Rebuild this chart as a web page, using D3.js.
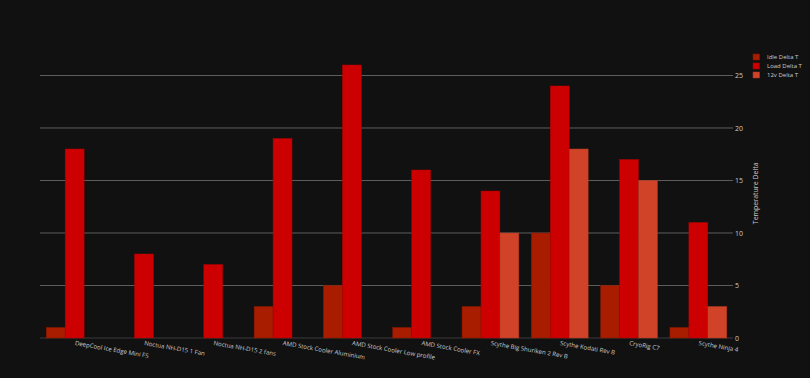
<!DOCTYPE html>
<html>
<head>
<meta charset="utf-8">
<script src="https://cdn.jsdelivr.net/npm/d3@7"></script>
<style>
  body { margin: 0; background: #111111; }
  text { font-family: "Open Sans", sans-serif; fill: #cccccc; }
</style>
</head>
<body>
<div id="chart-area"></div>
<script>
var outerWidth = 810;
var outerHeight = 378;

// data
var coolers = ["DeepCool Ice Edge Mini FS", "Noctua NH-D15 1 Fan", "Noctua NH-D15 2 fans",
  "AMD Stock Cooler Aluminium", "AMD Stock Cooler Low profile", "AMD Stock Cooler FX",
  "Scythe Big Shuriken 2 Rev B", "Scythe Kodati Rev B", "CryoRig C7", "Scythe Ninja 4"];
var seriesNames = ["Idle Delta T", "Load Delta T", "12v Delta T"];
var idleDelta = [1, 0, 0, 3, 5, 1, 3, 10, 5, 1];
var loadDelta = [18, 8, 7, 19, 26, 16, 14, 24, 17, 11];
var v12Delta = [null, null, null, null, null, null, 10, 18, 15, 3];
var yTicks = [0, 5, 10, 15, 20, 25];
var colors = ["#a81c00", "#cc0000", "#d04328"];
var strokes = ["#8a1600", "#a80000", "#ad3720"];

var seriesValues = [idleDelta, loadDelta, v12Delta];

var margin = { left: 40, right: 77, top: 50.6, bottom: 40 };
var width = outerWidth - margin.left - margin.right;
var height = outerHeight - margin.top - margin.bottom;

var svg = d3.select("#chart-area")
  .append("svg")
  .attr("width", outerWidth)
  .attr("height", outerHeight)
  .style("background", "#111111");

var g = svg.append("g")
  .attr("transform", "translate(" + margin.left + "," + margin.top + ")");

// scales
var x = d3.scaleBand()
  .domain(coolers)
  .range([0, width])
  .paddingInner(0.18)
  .paddingOuter(0.09);

var xInner = d3.scaleBand()
  .domain(seriesNames)
  .range([0, x.bandwidth()]);

var y = d3.scaleLinear()
  .domain([0, 27.37])
  .range([height, 0]);

// grid lines
g.selectAll(".grid")
  .data(yTicks.filter(function(d) { return d > 0; }))
  .enter()
  .append("line")
  .attr("x1", 0)
  .attr("x2", width)
  .attr("y1", function(d) { return y(d); })
  .attr("y2", function(d) { return y(d); })
  .attr("stroke", "#5e5e5e")
  .attr("stroke-width", 1);

// zero line
g.append("line")
  .attr("x1", 0)
  .attr("x2", width)
  .attr("y1", y(0))
  .attr("y2", y(0))
  .attr("stroke", "#2c2c2c")
  .attr("stroke-width", 1.5);

// bars
var rows = [];
coolers.forEach(function(c, i) {
  seriesValues.forEach(function(vals, s) {
    if (vals[i] !== null && vals[i] > 0) {
      rows.push({ cooler: c, series: s, value: vals[i] });
    }
  });
});

g.selectAll("rect.bar")
  .data(rows)
  .enter()
  .append("rect")
  .attr("class", "bar")
  .attr("x", function(d) { return x(d.cooler) + xInner(seriesNames[d.series]); })
  .attr("y", function(d) { return y(d.value); })
  .attr("width", xInner.bandwidth())
  .attr("height", function(d) { return y(0) - y(d.value); })
  .attr("fill", function(d) { return colors[d.series]; })
  .attr("stroke", function(d) { return strokes[d.series]; })
  .attr("stroke-width", 0.5);

// right axis
var yAxis = d3.axisRight(y)
  .tickValues(yTicks)
  .tickSize(0)
  .tickPadding(2);

var yAxisG = g.append("g")
  .attr("transform", "translate(" + width + ",0)")
  .call(yAxis);
yAxisG.select(".domain").remove();
yAxisG.selectAll("text")
  .attr("font-size", "7px")
  .attr("font-family", "Open Sans, sans-serif")
  .attr("fill", "#cccccc");

// bottom labels
g.selectAll(".xlabel")
  .data(coolers)
  .enter()
  .append("text")
  .attr("class", "xlabel")
  .attr("transform", function(d) {
    return "translate(" + (x(d) + x.bandwidth() / 2) + "," + (height + 7) + ") rotate(10)";
  })
  .attr("text-anchor", "start")
  .attr("font-size", "6.1px")
  .text(function(d) { return d; });

// Y-axis label
g.append("text")
  .attr("transform", "translate(" + (width + 25) + "," + (height / 2 - 1) + ") rotate(-90)")
  .attr("text-anchor", "middle")
  .attr("font-size", "7px")
  .text("Temperature Delta");

// legend
var legend = svg.append("g")
  .attr("transform", "translate(753,54)");

var items = legend.selectAll("g")
  .data(seriesNames)
  .enter()
  .append("g")
  .attr("transform", function(d, i) { return "translate(0," + (i * 9) + ")"; });

items.append("rect")
  .attr("width", 6.5)
  .attr("height", 6)
  .attr("fill", function(d, i) { return colors[i]; })
  .attr("stroke", function(d, i) { return strokes[i]; })
  .attr("stroke-width", 0.5);

items.append("text")
  .attr("x", 14)
  .attr("y", 5.2)
  .attr("font-size", "6px")
  .text(function(d) { return d; });
</script>
</body>
</html>
